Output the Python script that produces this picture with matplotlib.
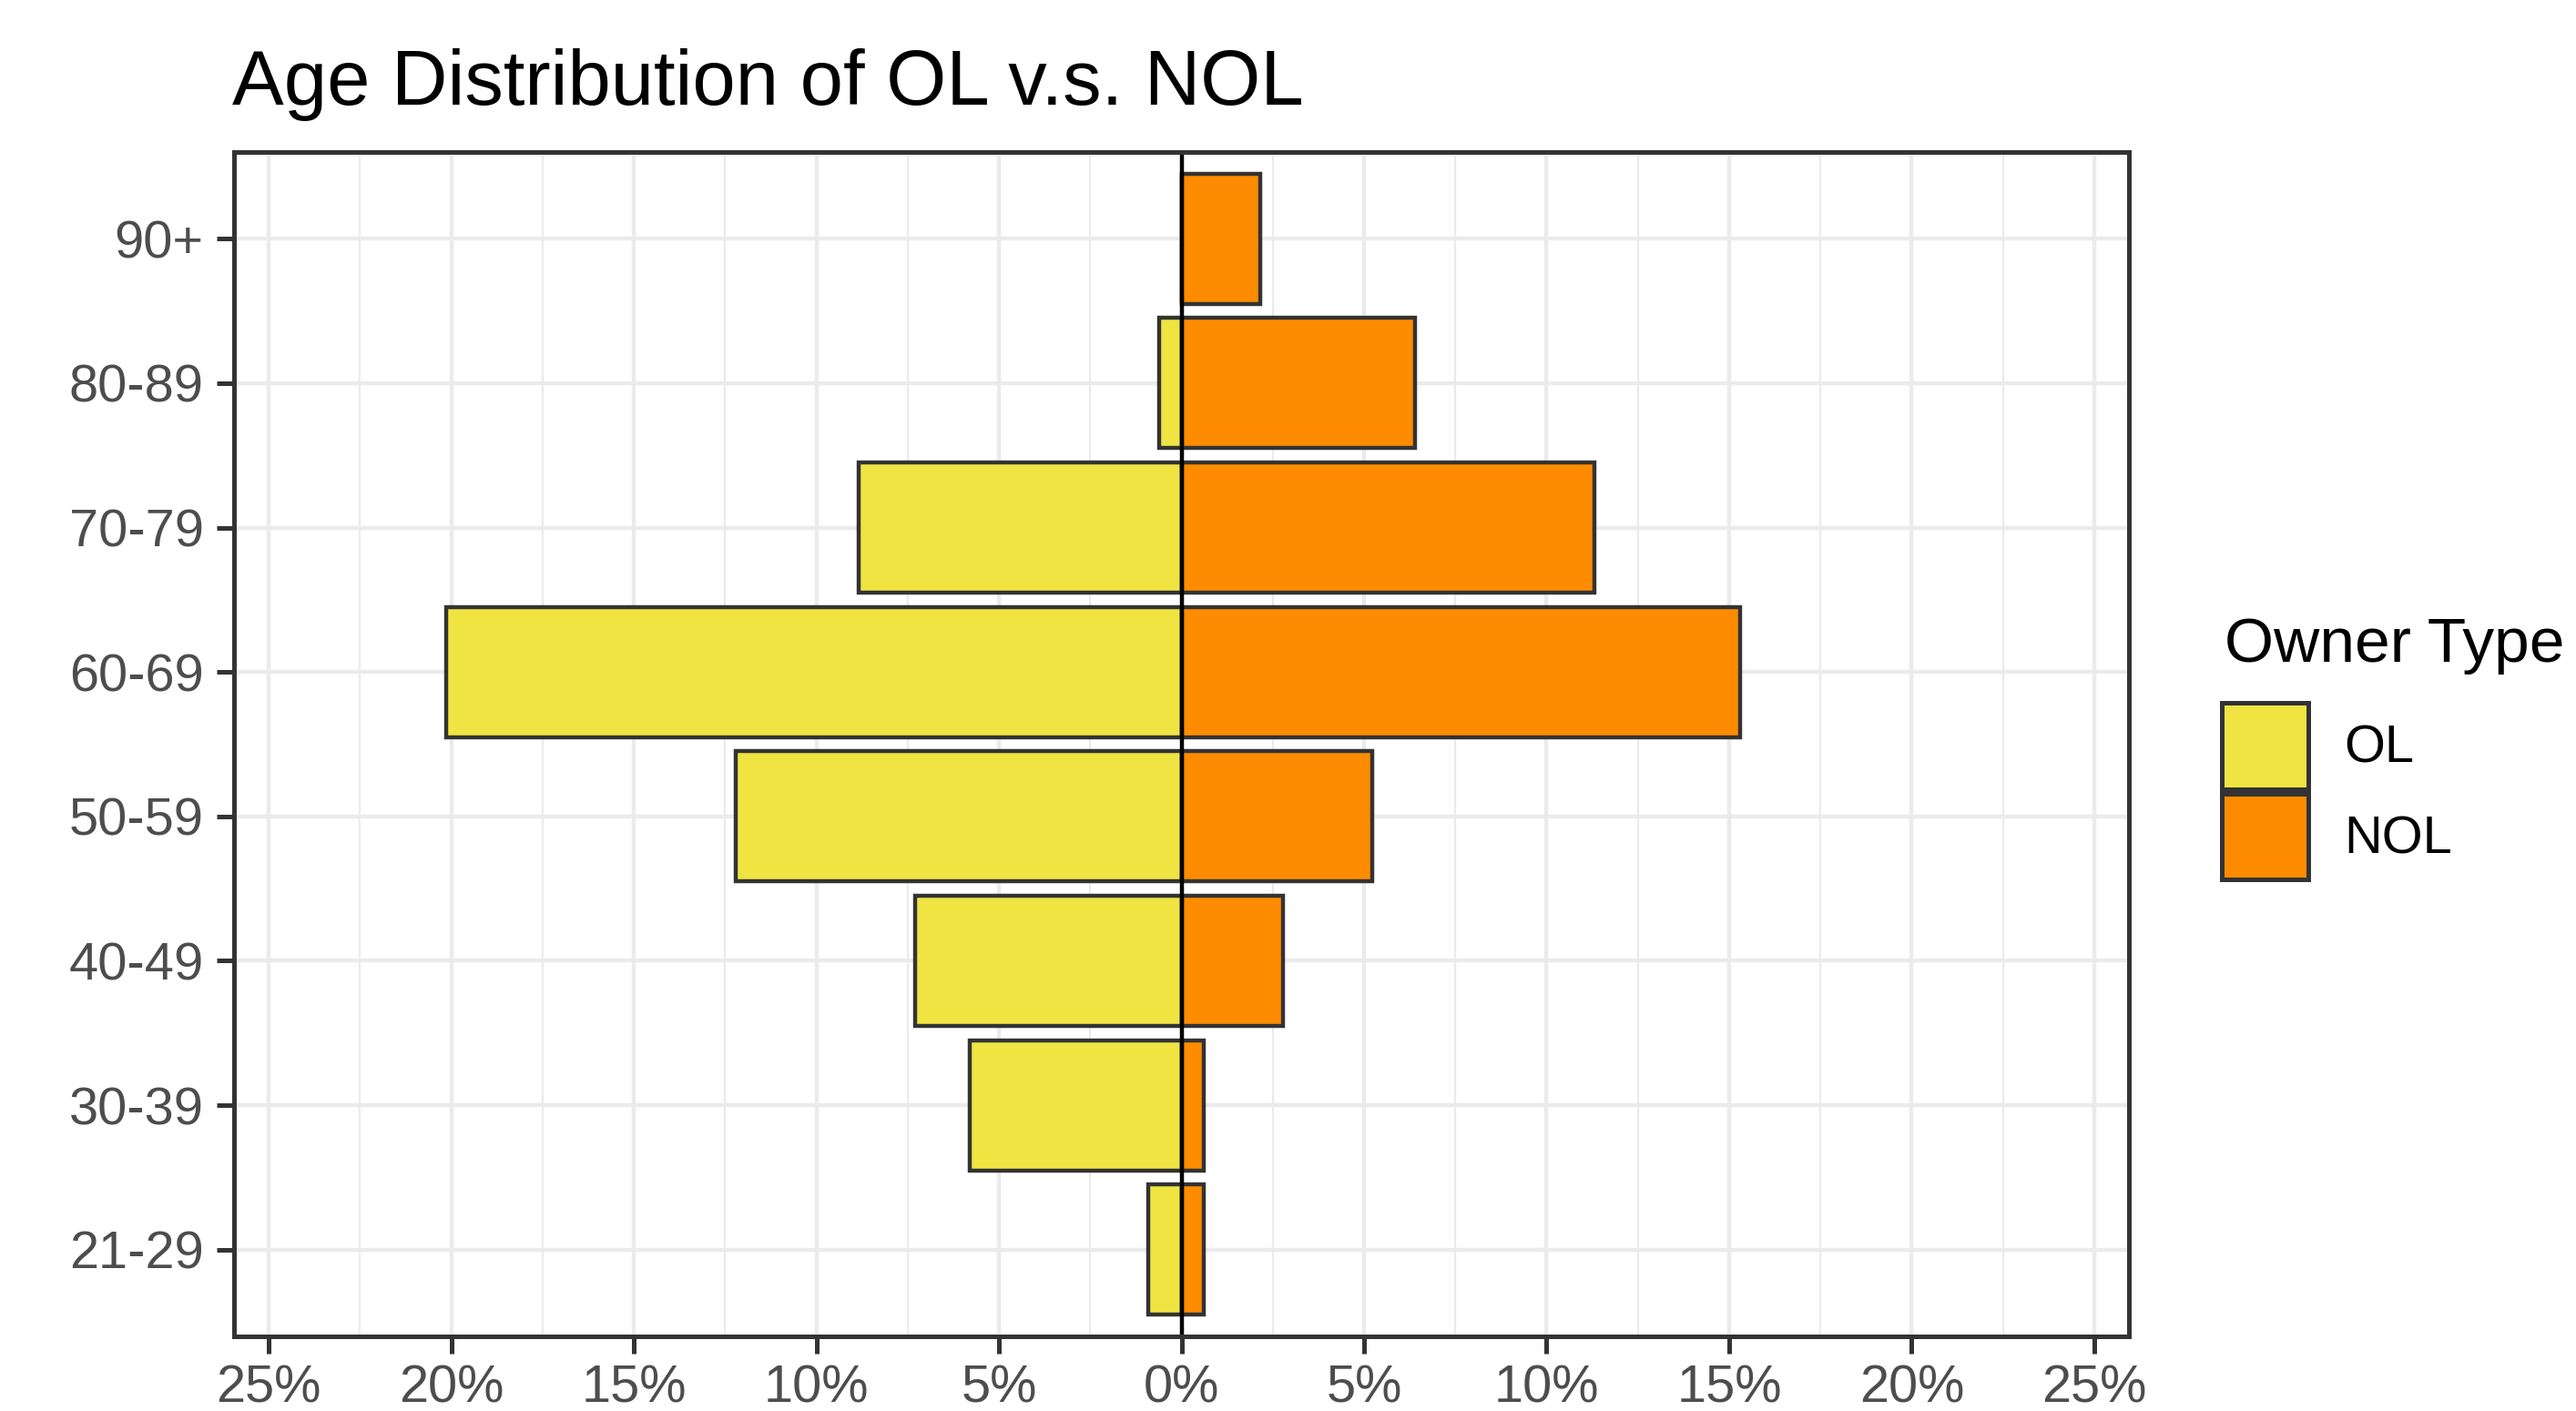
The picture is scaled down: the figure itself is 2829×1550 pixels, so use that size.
import matplotlib

matplotlib.use("Agg")
import matplotlib.pyplot as plt
from matplotlib.patches import Patch
from matplotlib.ticker import FixedLocator, FuncFormatter

plt.rcParams["font.family"] = ["Liberation Sans", "DejaVu Sans"]

# age bands, bottom to top
age_groups = ["21-29", "30-39", "40-49", "50-59", "60-69", "70-79", "80-89", "90+"]
# share of each owner type in each band (percent)
ol_pct = [0.90, 5.80, 7.30, 12.20, 20.15, 8.85, 0.62, 0.0]
nol_pct = [0.62, 0.62, 2.78, 5.23, 15.30, 11.30, 6.40, 2.15]
owner_types = ["OL", "NOL"]
x_ticks = [-25, -20, -15, -10, -5, 0, 5, 10, 15, 20, 25]

OL_COL = "#F0E442"
NOL_COL = "#FF8C00"
EDGE = "#333333"
GRID = "#EBEBEB"

W, H, DPI = 2829, 1550, 200
fig = plt.figure(figsize=(W / DPI, H / DPI), dpi=DPI)
ax = fig.add_axes([257 / W, 1 - 1468 / H, (2338 - 257) / W, (1468 - 167) / H])

ypos = list(range(len(age_groups)))
ax.barh(ypos, [-v for v in ol_pct], height=0.9, color=OL_COL,
        edgecolor=EDGE, linewidth=1.6, zorder=2)
ax.barh(ypos, nol_pct, height=0.9, color=NOL_COL,
        edgecolor=EDGE, linewidth=1.6, zorder=2)
ax.axvline(0, color="black", linewidth=1.6, zorder=3)

ax.set_xlim(-25.95, 25.95)
ax.set_ylim(-0.6, len(age_groups) - 0.4)

ax.xaxis.set_major_locator(FixedLocator(x_ticks))
ax.xaxis.set_minor_locator(FixedLocator([t + 2.5 for t in x_ticks[:-1]]))
ax.xaxis.set_major_formatter(FuncFormatter(lambda v, _: f"{abs(v):.0f}%"))
ax.set_yticks(ypos)
ax.set_yticklabels(age_groups)

ax.grid(True, which="major", color=GRID, linewidth=1.6, zorder=0)
ax.grid(True, which="minor", axis="x", color=GRID, linewidth=0.8, zorder=0)
ax.set_axisbelow(True)

ax.tick_params(axis="both", which="major", length=7, width=1.8, color=EDGE,
               labelsize=20.8, labelcolor="#4D4D4D")
ax.tick_params(axis="x", which="major", pad=4)
ax.tick_params(axis="y", which="major", pad=5)
ax.tick_params(axis="x", which="minor", length=0)
for s in ax.spines.values():
    s.set_color(EDGE)
    s.set_linewidth(1.8)
    s.set_zorder(4)

fig.text(255 / W, 1 - 115 / H, "Age Distribution of OL v.s. NOL",
         fontsize=30.6, color="black", ha="left", va="baseline")

# legend title drawn separately so the gap to the keys matches ggplot
fig.text(2443 / W, 1 - 727 / H, "Owner Type", fontsize=25,
         color="black", ha="left", va="baseline")
handles = [Patch(facecolor=OL_COL, edgecolor=EDGE, linewidth=1.8),
           Patch(facecolor=NOL_COL, edgecolor=EDGE, linewidth=1.8)]
leg = fig.legend(handles, owner_types,
                 loc="upper left", bbox_to_anchor=(2440 / W, 1 - 772 / H),
                 frameon=False, fontsize=20.8,
                 handlelength=1.64, handleheight=2.15, labelspacing=0.08,
                 handletextpad=0.69, borderpad=0, borderaxespad=0)

fig.savefig("out.png", dpi=DPI, facecolor="white")
